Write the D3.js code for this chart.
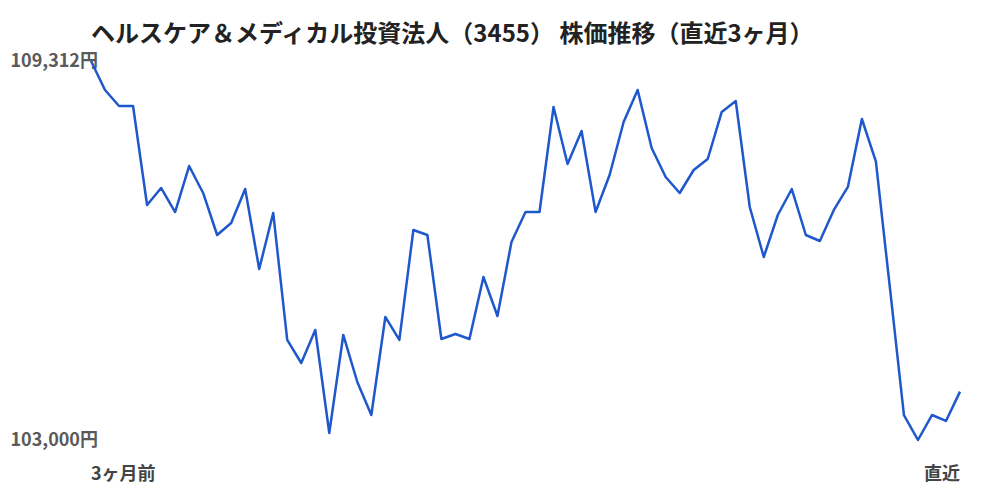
<!DOCTYPE html>
<html>
<head>
<meta charset="utf-8">
<script src="https://cdn.jsdelivr.net/npm/d3@7"></script>
<style>
  html, body { margin: 0; padding: 0; background: #fff; }
  svg { display: block; }
  text { font-family: "Noto Sans CJK JP", "Noto Sans", sans-serif; }
</style>
</head>
<body>
<svg id="chart" width="1000" height="500"></svg>
<script>
const titleText = "ヘルスケア＆メディカル投資法人（3455） 株価推移（直近3ヶ月）";
const yTickValues = [103000, 109312];
const yTickLabels = ["103,000円", "109,312円"];
const xTickLabels = ["3ヶ月前", "直近"];
const prices = [
  109312, 108829, 108563, 108563, 106914, 107197, 106797, 107563, 107114, 106414,
  106614, 107180, 105848, 106781, 104666, 104282, 104832, 103117, 104749, 103966,
  103416, 105049, 104666, 106497, 106414, 104682, 104765, 104682, 105715, 105065,
  106298, 106797, 106797, 108546, 107597, 108146, 106797, 107413, 108296, 108829,
  107863, 107380, 107114, 107497, 107680, 108463, 108646, 106881, 106048, 106747,
  107180, 106414, 106314, 106831, 107214, 108346, 107635, 105532, 103416, 103000,
  103416, 103317, 103805
];

const svg = d3.select("#chart");
const x = d3.scaleLinear().domain([0, prices.length - 1]).range([91, 960]);
const y = d3.scaleLinear().domain([103000, 109312]).range([440, 61]);

svg.append("text")
  .attr("x", 91).attr("y", 42)
  .attr("font-size", 24).attr("font-weight", 700).attr("fill", "#222")
  .text(titleText);

svg.selectAll(".ylab").data(yTickValues).enter().append("text")
  .attr("class", "ylab")
  .attr("x", 98).attr("y", d => y(d))
  .attr("dy", "0.35em")
  .attr("text-anchor", "end")
  .attr("font-size", 18).attr("font-weight", 700).attr("fill", "#5a5a5a")
  .text((d, i) => yTickLabels[i]);

svg.append("text")
  .attr("x", x(0)).attr("y", 474).attr("dy", "0.35em")
  .attr("text-anchor", "start")
  .attr("font-size", 18).attr("font-weight", 700).attr("fill", "#444")
  .text(xTickLabels[0]);
svg.append("text")
  .attr("x", x(prices.length - 1)).attr("y", 474).attr("dy", "0.35em")
  .attr("text-anchor", "end")
  .attr("font-size", 18).attr("font-weight", 700).attr("fill", "#444")
  .text(xTickLabels[1]);

const line = d3.line().x((d, i) => x(i)).y(d => y(d));
svg.append("path")
  .datum(prices)
  .attr("fill", "none")
  .attr("stroke", "#1f57cc")
  .attr("stroke-width", 2.5)
  .attr("stroke-linejoin", "round")
  .attr("d", line);
</script>
</body>
</html>
